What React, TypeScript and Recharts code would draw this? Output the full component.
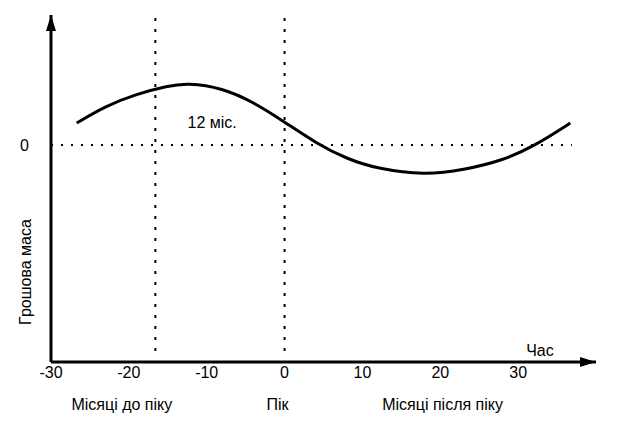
import { Line, LineChart, ReferenceDot, ReferenceLine, XAxis, YAxis } from 'recharts';

// months relative to peak
const months = [-26.7, -23, -19, -15, -12.5, -8, -4, 0, 4, 8, 12, 18, 23, 28, 32, 36.7];
// money supply deviation (arbitrary units)
const moneySupply = [2.2, 3.9, 5.1, 5.9, 6.2, 5.7, 4.3, 2.3, 0.2, -1.4, -2.4, -3.0, -2.5, -1.55, -0.15, 2.2];

const xTicks = [-30, -20, -10, 0, 10, 20, 30];
const yTicks = [0];
const leadMonth = -16.6;
const peakMonth = 0;

const bottomLabels = [
  { x: -20.9, text: 'Місяці до піку' },
  { x: -0.9, text: 'Пік' },
  { x: 20.3, text: 'Місяці після піку' }
];

const X_DOMAIN: [number, number] = [-30, 40];
const Y_DOMAIN: [number, number] = [-21.7, 13];
const FONT = '"Liberation Sans", Arial, sans-serif';
const FONT_SIZE = 16;

const data = months.map((t, i) => ({ t, m: moneySupply[i] }));

const textShape = (text: string, dx: number, dy: number, rotate = false) => (props: any) => {
  const { cx, cy } = props;
  const x = cx + dx;
  const y = cy + dy;
  return (
    <text
      x={x}
      y={y}
      textAnchor="middle"
      dominantBaseline="central"
      fontFamily={FONT}
      fontSize={FONT_SIZE}
      fill="#000"
      transform={rotate ? `rotate(-90 ${x} ${y})` : undefined}
    >
      {text}
    </text>
  );
};

const arrowUp = (props: any) => {
  const { cx, cy } = props;
  return <polygon points={`${cx},${cy} ${cx - 5},${cy + 16} ${cx + 5},${cy + 16}`} fill="#000" />;
};

const arrowRight = (props: any) => {
  const { cx, cy } = props;
  return <polygon points={`${cx},${cy} ${cx - 16},${cy - 5} ${cx - 16},${cy + 5}`} fill="#000" />;
};

export default function App() {
  return (
    <div style={{ position: 'absolute', left: 0, top: 0, background: '#fff' }}>
      <LineChart width={624} height={427} data={data} margin={{ top: 15, right: 28, bottom: 35, left: 0 }}>
        <XAxis
          type="number"
          dataKey="t"
          domain={X_DOMAIN}
          ticks={xTicks}
          allowDataOverflow
          axisLine={{ stroke: '#000', strokeWidth: 3 }}
          tickLine={false}
          tickSize={0}
          tickMargin={5}
          tick={{ fill: '#000', fontSize: FONT_SIZE, fontFamily: FONT }}
          height={30}
        />
        <YAxis
          type="number"
          domain={Y_DOMAIN}
          ticks={yTicks}
          allowDataOverflow
          width={51}
          axisLine={{ stroke: '#000', strokeWidth: 3 }}
          tickLine={false}
          tickSize={0}
          tickMargin={22}
          tick={{ fill: '#000', fontSize: FONT_SIZE, fontFamily: FONT }}
        />
        <ReferenceLine
          segment={[{ x: -30, y: 0 }, { x: 36.9, y: 0 }]}
          stroke="#000"
          strokeWidth={2}
          strokeDasharray="2 8"
        />
        <ReferenceLine
          segment={[{ x: leadMonth, y: 12.7 }, { x: leadMonth, y: -20.7 }]}
          stroke="#000"
          strokeWidth={2}
          strokeDasharray="3 8"
        />
        <ReferenceLine
          segment={[{ x: peakMonth, y: 12.7 }, { x: peakMonth, y: -20.7 }]}
          stroke="#000"
          strokeWidth={2}
          strokeDasharray="3 8"
        />
        <Line
          type="basis"
          dataKey="m"
          stroke="#000"
          strokeWidth={3}
          dot={false}
          isAnimationActive={false}
        />
        <ReferenceDot x={-30} y={13} ifOverflow="visible" shape={arrowUp} />
        <ReferenceDot x={40} y={-21.7} ifOverflow="visible" shape={arrowRight} />
        <ReferenceDot x={-9.3} y={2.3} ifOverflow="visible" shape={textShape('12 міс.', 0, 0)} />
        <ReferenceDot x={32.8} y={-20.5} ifOverflow="visible" shape={textShape('Час', 0, 0)} />
        <ReferenceDot x={-30} y={-12.7} ifOverflow="visible" shape={textShape('Грошова маса', -26, 0, true)} />
        {bottomLabels.map((l) => (
          <ReferenceDot
            key={l.text}
            x={l.x}
            y={-21.7}
            ifOverflow="visible"
            shape={textShape(l.text, 0, 42)}
          />
        ))}
      </LineChart>
    </div>
  );
}
